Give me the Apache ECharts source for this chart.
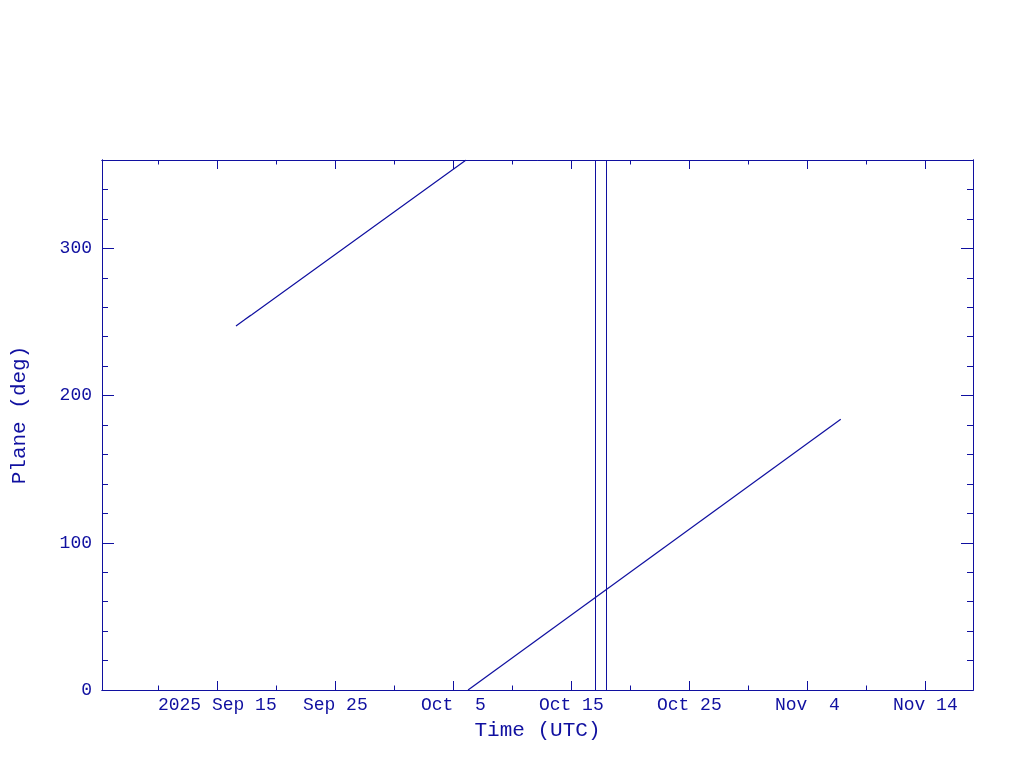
<!DOCTYPE html>
<html>
<head>
<meta charset="utf-8">
<script src="https://cdn.jsdelivr.net/npm/echarts@6/dist/echarts.min.js"></script>
<style>html,body{margin:0;padding:0;background:#fff}#c{width:1024px;height:768px}</style>
</head>
<body>
<div id="c"></div>
<script>
// ---- data ----
const xMinDate = '2025-09-05T05:30';
const xMaxDate = '2025-11-18T01:00';
const yMin = 0, yMax = 360;
const majorTickDates = ['2025-09-15','2025-09-25','2025-10-05','2025-10-15','2025-10-25','2025-11-04','2025-11-14'];
const majorTickLabels = ['2025 Sep 15','Sep 25','Oct  5','Oct 15','Oct 25','Nov  4','Nov 14'];
const minorTickDates = ['2025-09-10','2025-09-20','2025-09-30','2025-10-10','2025-10-20','2025-10-30','2025-11-09'];
const yMajorTicks = [0, 100, 200, 300];
const yMajorLabels = ['0', '100', '200', '300'];
const yMinorTicks = [20, 40, 60, 80, 120, 140, 160, 180, 220, 240, 260, 280, 320, 340];
// plane angle, first pass (before wrap at 360)
const plane1Times = ['2025-09-16T14:00','2025-09-17T20:00','2025-09-17T06:00','2025-09-17T22:00','2025-10-06T02:00'];
const plane1Values = [247.3, 254.6, 251.2, 254.9, 360];
// plane angle, after wrap
const plane2Times = ['2025-10-06T06:00','2025-11-06T20:00'];
const plane2Values = [0, 183.9];
// event markers
const eventTimes = ['2025-10-17T00:00','2025-10-18T00:00'];

// ---- helpers ----
const ms = s => new Date(s + (s.length === 10 ? 'T00:00' : '') + ':00Z').getTime();
const C = '#1010a0';
const FONT = 'Liberation Mono';
const xMin = ms(xMinDate), xMax = ms(xMaxDate);
const majorMs = majorTickDates.map(ms);
const minorMs = minorTickDates.map(ms);
const labelMap = {};
majorMs.forEach((v, i) => labelMap[v] = majorTickLabels[i]);
const yLabelMap = {};
yMajorTicks.forEach((v, i) => yLabelMap[v] = yMajorLabels[i]);

function xAx(pos, vals, len, labels, name) {
  return {
    type: 'value', position: pos, min: xMin, max: xMax,
    splitLine: {show: false},
    axisLine: {show: true, onZero: false, lineStyle: {color: C, width: 1}},
    axisTick: {show: true, inside: true, length: len, customValues: vals, lineStyle: {color: C, width: 1}},
    axisLabel: labels ? {show: true, customValues: vals, formatter: v => labelMap[v] || '', color: C,
      fontFamily: FONT, fontSize: 18, margin: 6} : {show: false},
    name: name || '', nameLocation: 'middle', nameGap: 30,
    nameTextStyle: {color: C, fontFamily: FONT, fontSize: 21}
  };
}
function yAx(pos, vals, len, labels, name) {
  return {
    type: 'value', position: pos, min: yMin, max: yMax,
    splitLine: {show: false},
    axisLine: {show: true, onZero: false, lineStyle: {color: C, width: 1}},
    axisTick: {show: true, inside: true, length: len, customValues: vals, lineStyle: {color: C, width: 1}},
    axisLabel: labels ? {show: true, customValues: vals, formatter: v => yLabelMap[v] !== undefined ? yLabelMap[v] : '', color: C,
      fontFamily: FONT, fontSize: 18, margin: 10} : {show: false},
    name: name || '', nameLocation: 'middle', nameGap: 72,
    nameTextStyle: {color: C, fontFamily: FONT, fontSize: 21, padding: [0, 0, 0, 20]}
  };
}

const chart = echarts.init(document.getElementById('c'), null, {renderer: 'canvas'});
chart.setOption({
  animation: false,
  backgroundColor: '#fff',
  grid: {left: 102, right: 51, top: 160, bottom: 78, containLabel: false},
  xAxis: [
    xAx('bottom', majorMs, 9, true, 'Time (UTC)'),
    xAx('bottom', minorMs, 4.5, false),
    xAx('top', majorMs, 9, false),
    xAx('top', minorMs, 4.5, false)
  ],
  yAxis: [
    yAx('left', yMajorTicks, 12, true, 'Plane (deg)'),
    yAx('left', yMinorTicks, 6, false),
    yAx('right', yMajorTicks, 12, false),
    yAx('right', yMinorTicks, 6, false)
  ],
  series: [
    {
      type: 'line', xAxisIndex: 0, yAxisIndex: 0, showSymbol: false, symbol: 'none',
      lineStyle: {color: C, width: 1.2}, itemStyle: {color: C},
      data: plane1Times.map((t, i) => [ms(t), plane1Values[i]]),
      markLine: {
        silent: true, symbol: ['none', 'none'], label: {show: false},
        lineStyle: {color: C, width: 1, type: 'solid'},
        data: eventTimes.map(t => ({xAxis: ms(t)}))
      }
    },
    {
      type: 'line', xAxisIndex: 0, yAxisIndex: 0, showSymbol: false, symbol: 'none',
      lineStyle: {color: C, width: 1.2}, itemStyle: {color: C},
      data: plane2Times.map((t, i) => [ms(t), plane2Values[i]])
    }
  ]
});
</script>
</body>
</html>
